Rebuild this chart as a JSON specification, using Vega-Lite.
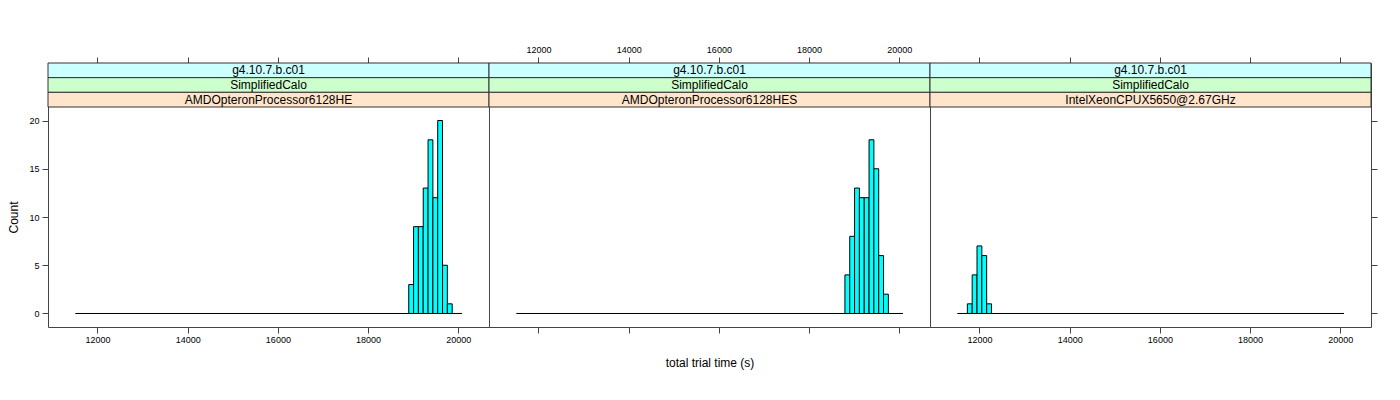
{
  "$schema": "https://vega.github.io/schema/vega-lite/v6.json",
  "padding": {"left": 7, "top": 44, "right": 5, "bottom": 5},
  "background": "white",
  "spacing": 0,
  "bounds": "flush",
  "datasets": {
    "bins": [
      {"panel": "AMDOpteronProcessor6128HE", "lo": 11518, "hi": 11625, "count": 0},
      {"panel": "AMDOpteronProcessor6128HE", "lo": 18901, "hi": 19008, "count": 3},
      {"panel": "AMDOpteronProcessor6128HE", "lo": 19008, "hi": 19115, "count": 9},
      {"panel": "AMDOpteronProcessor6128HE", "lo": 19115, "hi": 19222, "count": 9},
      {"panel": "AMDOpteronProcessor6128HE", "lo": 19222, "hi": 19329, "count": 13},
      {"panel": "AMDOpteronProcessor6128HE", "lo": 19329, "hi": 19436, "count": 18},
      {"panel": "AMDOpteronProcessor6128HE", "lo": 19436, "hi": 19543, "count": 12},
      {"panel": "AMDOpteronProcessor6128HE", "lo": 19543, "hi": 19650, "count": 20},
      {"panel": "AMDOpteronProcessor6128HE", "lo": 19650, "hi": 19757, "count": 5},
      {"panel": "AMDOpteronProcessor6128HE", "lo": 19757, "hi": 19864, "count": 1},
      {"panel": "AMDOpteronProcessor6128HE", "lo": 19971, "hi": 20078, "count": 0},
      {"panel": "AMDOpteronProcessor6128HES", "lo": 11518, "hi": 11625, "count": 0},
      {"panel": "AMDOpteronProcessor6128HES", "lo": 18794, "hi": 18901, "count": 4},
      {"panel": "AMDOpteronProcessor6128HES", "lo": 18901, "hi": 19008, "count": 8},
      {"panel": "AMDOpteronProcessor6128HES", "lo": 19008, "hi": 19115, "count": 13},
      {"panel": "AMDOpteronProcessor6128HES", "lo": 19115, "hi": 19222, "count": 12},
      {"panel": "AMDOpteronProcessor6128HES", "lo": 19222, "hi": 19329, "count": 12},
      {"panel": "AMDOpteronProcessor6128HES", "lo": 19329, "hi": 19436, "count": 18},
      {"panel": "AMDOpteronProcessor6128HES", "lo": 19436, "hi": 19543, "count": 15},
      {"panel": "AMDOpteronProcessor6128HES", "lo": 19543, "hi": 19650, "count": 6},
      {"panel": "AMDOpteronProcessor6128HES", "lo": 19650, "hi": 19757, "count": 2},
      {"panel": "AMDOpteronProcessor6128HES", "lo": 19971, "hi": 20078, "count": 0},
      {"panel": "IntelXeonCPUX5650@2.67GHz", "lo": 11518, "hi": 11625, "count": 0},
      {"panel": "IntelXeonCPUX5650@2.67GHz", "lo": 11732, "hi": 11839, "count": 1},
      {"panel": "IntelXeonCPUX5650@2.67GHz", "lo": 11839, "hi": 11946, "count": 4},
      {"panel": "IntelXeonCPUX5650@2.67GHz", "lo": 11946, "hi": 12053, "count": 7},
      {"panel": "IntelXeonCPUX5650@2.67GHz", "lo": 12053, "hi": 12160, "count": 6},
      {"panel": "IntelXeonCPUX5650@2.67GHz", "lo": 12160, "hi": 12267, "count": 1},
      {"panel": "IntelXeonCPUX5650@2.67GHz", "lo": 19971, "hi": 20078, "count": 0}
    ],
    "strips": [
      {"panel": "AMDOpteronProcessor6128HE", "level": "version", "label": "g4.10.7.b.c01"},
      {"panel": "AMDOpteronProcessor6128HE", "level": "test", "label": "SimplifiedCalo"},
      {"panel": "AMDOpteronProcessor6128HE", "level": "cpu", "label": "AMDOpteronProcessor6128HE"},
      {"panel": "AMDOpteronProcessor6128HES", "level": "version", "label": "g4.10.7.b.c01"},
      {"panel": "AMDOpteronProcessor6128HES", "level": "test", "label": "SimplifiedCalo"},
      {"panel": "AMDOpteronProcessor6128HES", "level": "cpu", "label": "AMDOpteronProcessor6128HES"},
      {"panel": "IntelXeonCPUX5650@2.67GHz", "level": "version", "label": "g4.10.7.b.c01"},
      {"panel": "IntelXeonCPUX5650@2.67GHz", "level": "test", "label": "SimplifiedCalo"},
      {"panel": "IntelXeonCPUX5650@2.67GHz", "level": "cpu", "label": "IntelXeonCPUX5650@2.67GHz"}
    ]
  },
  "hconcat": [
    {
      "width": 441, "height": 264,
      "layer": [
        {
          "data": {"name": "bins"},
          "transform": [{"filter": "datum.panel === 'AMDOpteronProcessor6128HE'"}],
          "layer": [
            {
              "mark": {"type": "rect", "fill": "#00FFFF", "stroke": "#000", "strokeWidth": 1},
              "encoding": {
                "x": {"field": "lo", "type": "quantitative", "scale": {"domain": [10904, 20680], "nice": false, "zero": false},
                      "axis": {"orient": "bottom", "values": [12000, 14000, 16000, 18000, 20000], "title": null, "labelPadding": 2, "format": "d"}},
                "x2": {"field": "hi"},
                "y": {"field": "count", "type": "quantitative", "scale": {"domain": [-1.4, 21.4], "range": [264, 44], "nice": false, "zero": false},
                      "axis": {"orient": "left", "values": [0, 5, 10, 15, 20], "title": "Count", "labelPadding": 3, "titlePadding": 8}},
                "y2": {"datum": 0}
              }
            },
            {
              "mark": {"type": "rule", "stroke": "#000", "strokeWidth": 1},
              "encoding": {
                "x": {"aggregate": "min", "field": "lo", "type": "quantitative",
                      "axis": {"orient": "top", "values": [12000, 14000, 16000, 18000, 20000], "labels": false, "title": null}},
                "x2": {"aggregate": "max", "field": "hi"},
                "y": {"datum": 0, "type": "quantitative", "axis": null}
              }
            }
          ],
          "resolve": {"axis": {"x": "independent", "y": "independent"}}
        },
        {
          "data": {"name": "strips"},
          "transform": [{"filter": "datum.panel === 'AMDOpteronProcessor6128HE'"}],
          "layer": [
            {
              "mark": {"type": "rect", "stroke": "#333", "strokeWidth": 1},
              "encoding": {
                "x": {"field": "panel", "type": "nominal", "scale": {"paddingInner": 0, "paddingOuter": 0}, "axis": null},
                "y": {"field": "level", "type": "nominal", "scale": {"domain": ["version", "test", "cpu"], "range": [0, 44], "paddingInner": 0, "paddingOuter": 0}, "axis": null},
                "fill": {"field": "level", "type": "nominal", "scale": {"domain": ["version", "test", "cpu"], "range": ["#CCFFFF", "#CCFFCC", "#FFE5CC"]}, "legend": null}
              }
            },
            {
              "mark": {"type": "text", "font": "Liberation Sans", "fontSize": 12, "color": "#000", "baseline": "middle", "align": "center"},
              "encoding": {
                "x": {"field": "panel", "type": "nominal", "axis": null},
                "y": {"field": "level", "type": "nominal", "axis": null},
                "text": {"field": "label"}
              }
            }
          ]
        }
      ],
      "resolve": {"scale": {"x": "independent", "y": "independent"}, "axis": {"x": "independent", "y": "independent"}}
    },
    {
      "width": 441, "height": 264,
      "layer": [
        {
          "data": {"name": "bins"},
          "transform": [{"filter": "datum.panel === 'AMDOpteronProcessor6128HES'"}],
          "layer": [
            {
              "mark": {"type": "rect", "fill": "#00FFFF", "stroke": "#000", "strokeWidth": 1},
              "encoding": {
                "x": {"field": "lo", "type": "quantitative", "scale": {"domain": [10904, 20680], "nice": false, "zero": false},
                      "axis": {"orient": "top", "values": [12000, 14000, 16000, 18000, 20000], "title": null, "labelPadding": 3, "format": "d"}},
                "x2": {"field": "hi"},
                "y": {"field": "count", "type": "quantitative", "scale": {"domain": [-1.4, 21.4], "range": [264, 44], "nice": false, "zero": false}, "axis": null},
                "y2": {"datum": 0}
              }
            },
            {
              "mark": {"type": "rule", "stroke": "#000", "strokeWidth": 1},
              "encoding": {
                "x": {"aggregate": "min", "field": "lo", "type": "quantitative",
                      "axis": {"orient": "bottom", "values": [12000, 14000, 16000, 18000, 20000], "labels": false, "title": "total trial time (s)", "titlePadding": 24}},
                "x2": {"aggregate": "max", "field": "hi"},
                "y": {"datum": 0, "type": "quantitative", "axis": null}
              }
            }
          ],
          "resolve": {"axis": {"x": "independent", "y": "independent"}}
        },
        {
          "data": {"name": "strips"},
          "transform": [{"filter": "datum.panel === 'AMDOpteronProcessor6128HES'"}],
          "layer": [
            {
              "mark": {"type": "rect", "stroke": "#333", "strokeWidth": 1},
              "encoding": {
                "x": {"field": "panel", "type": "nominal", "scale": {"paddingInner": 0, "paddingOuter": 0}, "axis": null},
                "y": {"field": "level", "type": "nominal", "scale": {"domain": ["version", "test", "cpu"], "range": [0, 44], "paddingInner": 0, "paddingOuter": 0}, "axis": null},
                "fill": {"field": "level", "type": "nominal", "scale": {"domain": ["version", "test", "cpu"], "range": ["#CCFFFF", "#CCFFCC", "#FFE5CC"]}, "legend": null}
              }
            },
            {
              "mark": {"type": "text", "font": "Liberation Sans", "fontSize": 12, "color": "#000", "baseline": "middle", "align": "center"},
              "encoding": {
                "x": {"field": "panel", "type": "nominal", "axis": null},
                "y": {"field": "level", "type": "nominal", "axis": null},
                "text": {"field": "label"}
              }
            }
          ]
        }
      ],
      "resolve": {"scale": {"x": "independent", "y": "independent"}, "axis": {"x": "independent", "y": "independent"}}
    },
    {
      "width": 441, "height": 264,
      "layer": [
        {
          "data": {"name": "bins"},
          "transform": [{"filter": "datum.panel === 'IntelXeonCPUX5650@2.67GHz'"}],
          "layer": [
            {
              "mark": {"type": "rect", "fill": "#00FFFF", "stroke": "#000", "strokeWidth": 1},
              "encoding": {
                "x": {"field": "lo", "type": "quantitative", "scale": {"domain": [10904, 20680], "nice": false, "zero": false},
                      "axis": {"orient": "bottom", "values": [12000, 14000, 16000, 18000, 20000], "title": null, "labelPadding": 2, "format": "d"}},
                "x2": {"field": "hi"},
                "y": {"field": "count", "type": "quantitative", "scale": {"domain": [-1.4, 21.4], "range": [264, 44], "nice": false, "zero": false},
                      "axis": {"orient": "right", "values": [0, 5, 10, 15, 20], "labels": false, "title": null}},
                "y2": {"datum": 0}
              }
            },
            {
              "mark": {"type": "rule", "stroke": "#000", "strokeWidth": 1},
              "encoding": {
                "x": {"aggregate": "min", "field": "lo", "type": "quantitative",
                      "axis": {"orient": "top", "values": [12000, 14000, 16000, 18000, 20000], "labels": false, "title": null}},
                "x2": {"aggregate": "max", "field": "hi"},
                "y": {"datum": 0, "type": "quantitative", "axis": null}
              }
            }
          ],
          "resolve": {"axis": {"x": "independent", "y": "independent"}}
        },
        {
          "data": {"name": "strips"},
          "transform": [{"filter": "datum.panel === 'IntelXeonCPUX5650@2.67GHz'"}],
          "layer": [
            {
              "mark": {"type": "rect", "stroke": "#333", "strokeWidth": 1},
              "encoding": {
                "x": {"field": "panel", "type": "nominal", "scale": {"paddingInner": 0, "paddingOuter": 0}, "axis": null},
                "y": {"field": "level", "type": "nominal", "scale": {"domain": ["version", "test", "cpu"], "range": [0, 44], "paddingInner": 0, "paddingOuter": 0}, "axis": null},
                "fill": {"field": "level", "type": "nominal", "scale": {"domain": ["version", "test", "cpu"], "range": ["#CCFFFF", "#CCFFCC", "#FFE5CC"]}, "legend": null}
              }
            },
            {
              "mark": {"type": "text", "font": "Liberation Sans", "fontSize": 12, "color": "#000", "baseline": "middle", "align": "center"},
              "encoding": {
                "x": {"field": "panel", "type": "nominal", "axis": null},
                "y": {"field": "level", "type": "nominal", "axis": null},
                "text": {"field": "label"}
              }
            }
          ]
        }
      ],
      "resolve": {"scale": {"x": "independent", "y": "independent"}, "axis": {"x": "independent", "y": "independent"}}
    }
  ],
  "config": {
    "font": "Liberation Sans",
    "view": {"stroke": "#444", "strokeWidth": 1},
    "axis": {
      "labelFont": "Liberation Sans", "labelFontSize": 9, "labelColor": "#000",
      "titleFont": "Liberation Sans", "titleFontSize": 12, "titleFontWeight": "normal", "titleColor": "#000",
      "tickColor": "#444", "tickSize": 6, "tickWidth": 1, "domain": false, "grid": false
    }
  }
}
